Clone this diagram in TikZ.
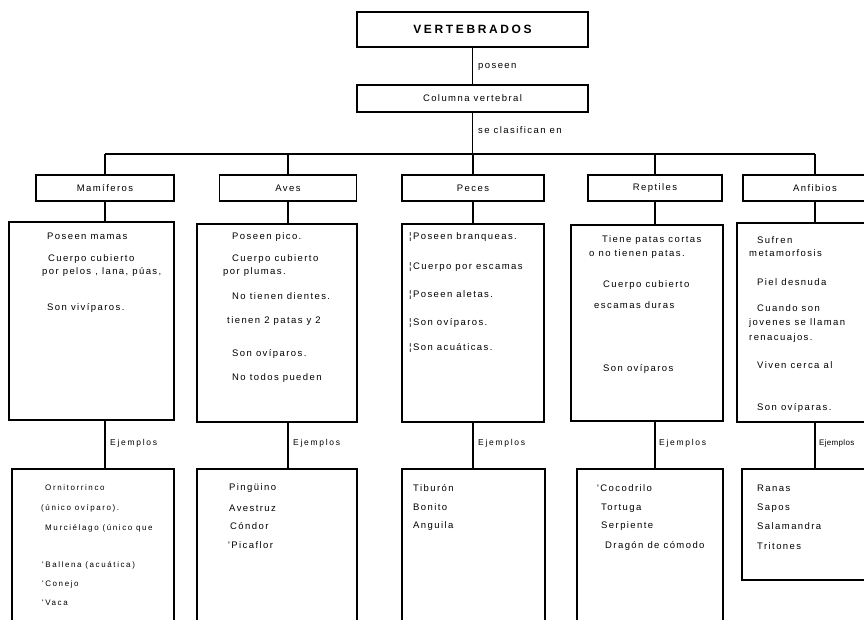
\documentclass[tikz,border=0pt]{standalone}
\usepackage{fontspec}
\setmainfont{Liberation Sans}
\newfontfamily\bodyf[LetterSpace=15]{Liberation Sans}
\newfontfamily\smallf[LetterSpace=20]{Liberation Sans}
\newfontfamily\tightf[LetterSpace=4]{Liberation Sans}
\newfontfamily\titlef[LetterSpace=22]{Liberation Sans}
\tikzset{
  box/.style={draw, line width=1.1pt, rectangle, inner sep=0pt},
  catbox/.style={box, minimum height=26pt, font=\bodyf\fontsize{9.5}{10}\selectfont},
  txt/.style={anchor=west, inner sep=0pt, font=\bodyf\fontsize{9.5}{10}\selectfont},
  small/.style={anchor=west, inner sep=0pt, font=\smallf\fontsize{8}{9}\selectfont},
  ejtxt/.style={anchor=west, inner sep=0pt, font=\smallf\fontsize{8.5}{9}\selectfont},
  conn/.style={line width=1.1pt},
}
\begin{document}
\begin{tikzpicture}[x=1pt,y=-1pt]
\useasboundingbox (0,0) rectangle (864,619);
% top boxes
\node[box, minimum width=231pt, minimum height=35pt, font=\titlef\bfseries\fontsize{12}{13}\selectfont] (vert) at (472.5,29.5) {VERTEBRADOS};
\node[box, minimum width=231pt, minimum height=27pt, font=\bodyf\fontsize{9.5}{10}\selectfont] (colum) at (472.5,98.5) {Columna vertebral};
\draw[conn] (vert.south) -- (colum.north);
\node[txt] (poseen) at (478,67) {poseen};
\coordinate (bus) at (472.5,154);
\coordinate (busL) at (105,154);
\coordinate (busR) at (815,154);
\draw[conn] (colum.south) -- (bus);
\draw[conn] (busL) -- (busR);
\node[txt] (clasif) at (478,130) {se clasifican en};
% categories
\node[catbox, minimum width=138pt] (mam) at (105,188) {Mamíferos};
\node[catbox, minimum width=137pt] (aves) at (288,188) {Aves};
\node[catbox, minimum width=142pt] (peces) at (473,188) {Peces};
\node[catbox, minimum width=134pt] (rept) at (655,188) {Reptiles};
\node[catbox, minimum width=144pt] (anf) at (815,188) {Anfibios};
\foreach \c in {mam,aves,peces,rept,anf}{\draw[conn] (\c.north) -- (\c.north |- bus);}
% description boxes
\node[box, minimum width=165pt, minimum height=198pt] (mamd) at (91.5,321) {};
\node[box, minimum width=160pt, minimum height=198pt] (avesd) at (277,323) {};
\node[box, minimum width=142pt, minimum height=198pt] (pecesd) at (473,323) {};
\node[box, minimum width=152pt, minimum height=196pt] (reptd) at (647,323) {};
\node[box, minimum width=163pt, minimum height=199pt] (anfd) at (818.5,322.5) {};
\draw[conn] (mam.south) -- (mam.south |- mamd.north);
\draw[conn] (aves.south) -- (aves.south |- avesd.north);
\draw[conn] (peces.south) -- (peces.south |- pecesd.north);
\draw[conn] (rept.south) -- (rept.south |- reptd.north);
\draw[conn] (anf.south) -- (anf.south |- anfd.north);
% example boxes
\node[box, minimum width=162pt, minimum height=161pt] (mame) at (93,549.5) {};
\node[box, minimum width=160pt, minimum height=161pt] (avese) at (277,549.5) {};
\node[box, minimum width=143pt, minimum height=161pt] (pecese) at (473.5,549.5) {};
\node[box, minimum width=146pt, minimum height=161pt] (repte) at (650,549.5) {};
\node[box, minimum width=158pt, minimum height=111pt] (anfe) at (821,524.5) {};
\draw[conn] (mam.south |- mamd.south) -- (mam.south |- mame.north);
\draw[conn] (aves.south |- avesd.south) -- (aves.south |- avese.north);
\draw[conn] (peces.south |- pecesd.south) -- (peces.south |- pecese.north);
\draw[conn] (rept.south |- reptd.south) -- (rept.south |- repte.north);
\draw[conn] (anf.south |- anfd.south) -- (anf.south |- anfe.north);
\node[ejtxt] (ej1) at (110,443) {Ejemplos};
\node[ejtxt] (ej2) at (293,443) {Ejemplos};
\node[ejtxt] (ej3) at (478,443) {Ejemplos};
\node[ejtxt] (ej4) at (659,443) {Ejemplos};
\node[anchor=west, inner sep=0pt, font=\tightf\fontsize{8}{9}\selectfont] (ej5) at (819,443) {Ejemplos};
% Mamiferos text
\node[txt] (m1) at (47,236) {Poseen mamas};
\node[txt] (m2) at (48,259) {Cuerpo cubierto};
\node[txt] (m3) at (42,272) {por pelos , lana, púas,};
\node[txt] (m4) at (47,308) {Son vivíparos.};
% Aves text
\node[txt] (a1) at (232,237) {Poseen pico.};
\node[txt] (a2) at (232,259) {Cuerpo cubierto};
\node[txt] (a3) at (223,272) {por plumas.};
\node[txt] (a4) at (232,296) {No tienen dientes.};
\node[txt] (a5) at (227,321) {tienen 2 patas y 2};
\node[txt] (a6) at (232,354) {Son ovíparos.};
\node[txt] (a7) at (232,378) {No todos pueden};
% Peces text
\node[txt] (p1) at (409,237) {¦Poseen branqueas.};
\node[txt] (p2) at (409,267) {¦Cuerpo por escamas};
\node[txt] (p3) at (409,295) {¦Poseen aletas.};
\node[txt] (p4) at (409,323) {¦Son ovíparos.};
\node[txt] (p5) at (409,348) {¦Son acuáticas.};
% Reptiles text
\node[txt] (r1) at (602,240) {Tiene patas cortas};
\node[txt] (r2) at (589,254) {o no tienen patas.};
\node[txt] (r3) at (603,285) {Cuerpo cubierto};
\node[txt] (r4) at (594,305) {escamas duras};
\node[txt] (r5) at (603,369) {Son ovíparos};
% Anfibios text
\node[txt] (f1) at (757,240) {Sufren};
\node[txt] (f2) at (749,253) {metamorfosis};
\node[txt] (f3) at (757,282) {Piel desnuda};
\node[txt] (f4) at (757,308) {Cuando son};
\node[txt] (f5) at (749,323) {jovenes se llaman};
\node[txt] (f6) at (749,338) {renacuajos.};
\node[txt] (f7) at (757,365) {Viven cerca al};
\node[txt] (f8) at (757,408) {Son ovíparas.};
% Examples
\node[small] (me1) at (45,488) {Ornitorrinco};
\node[small] (me2) at (41,508) {(único ovíparo).};
\node[small] (me3) at (45,528) {Murciélago (único que};
\node[small] (me4) at (42,565) {'Ballena (acuática)};
\node[small] (me5) at (42,584) {'Conejo};
\node[small] (me6) at (42,603) {'Vaca};
\node[txt] (ae1) at (229,488) {Pingüino};
\node[txt] (ae2) at (229,508) {Avestruz};
\node[txt] (ae3) at (230,526) {Cóndor};
\node[txt] (ae4) at (228,545) {'Picaflor};
\node[txt] (pe1) at (413,488) {Tiburón};
\node[txt] (pe2) at (413,507) {Bonito};
\node[txt] (pe3) at (413,526) {Anguila};
\node[txt] (re1) at (597,488) {'Cocodrilo};
\node[txt] (re2) at (601,508) {Tortuga};
\node[txt] (re3) at (601,526) {Serpiente};
\node[txt] (re4) at (605,546) {Dragón de cómodo};
\node[txt] (fe1) at (757,488) {Ranas};
\node[txt] (fe2) at (757,508) {Sapos};
\node[txt] (fe3) at (757,526) {Salamandra};
\node[txt] (fe4) at (757,546) {Tritones};
\end{tikzpicture}
\end{document}
